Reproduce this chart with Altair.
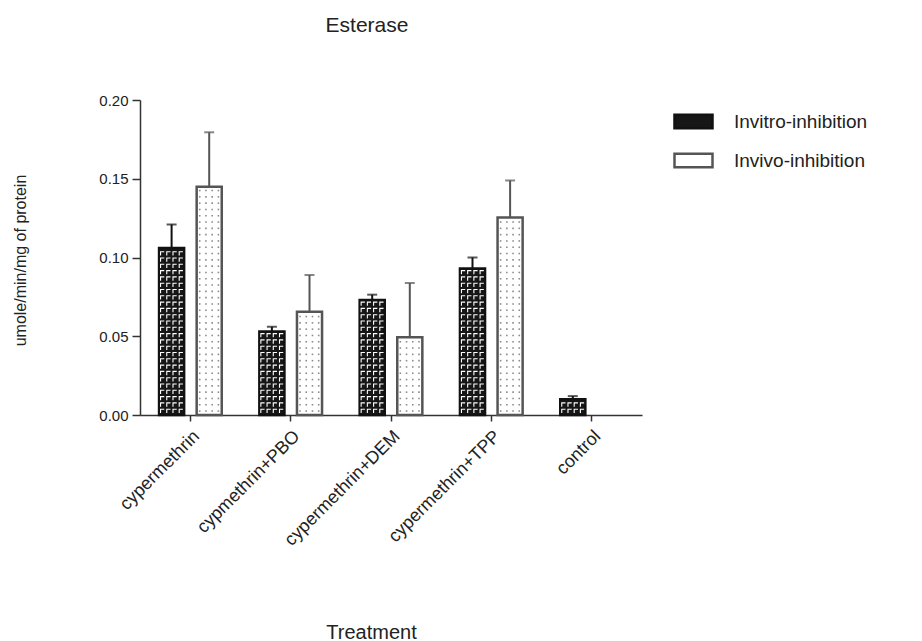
import altair as alt
import pandas as pd

FONT = "Liberation Sans"

treatments = ["cypermethrin", "cypmethrin+PBO", "cypermethrin+DEM", "cypermethrin+TPP", "control"]
series = ["Invitro-inhibition", "Invivo-inhibition"]
invitro_mean = [0.106, 0.053, 0.073, 0.093, 0.010]
invitro_err = [0.015, 0.003, 0.0034, 0.007, 0.002]
invivo_mean = [0.145, 0.0655, 0.0494, 0.1254, 0.0]
invivo_err = [0.0345, 0.0234, 0.0344, 0.0235, 0.0]

fills = ["#161616", "#ffffff"]
strokes = ["#111111", "#555555"]
err_colors = ["#111111", "#555555"]

rows = []
for i, t in enumerate(treatments):
    for s, m, e in ((series[0], invitro_mean[i], invitro_err[i]), (series[1], invivo_mean[i], invivo_err[i])):
        if m > 0:
            rows.append({"Treatment": t, "Series": s, "Mean": m, "Upper": m + e})
df = pd.DataFrame(rows)

# texture marks inside the bars (decoration derived from bar heights)
slots = [str(i) for i in range(10)]
tex = []
for r in rows:
    first = 0 if r["Series"] == series[0] else 6
    y = 0.0025
    while y < r["Mean"] - 0.0015:
        for c in range(4):
            tex.append({"Treatment": r["Treatment"], "Series": r["Series"], "Slot": str(first + c), "Y": y})
        y += 0.004
tex_df = pd.DataFrame(tex)

legend_spec = alt.Legend(
    title=None, orient="none", legendX=533, legendY=1,
    symbolType="M-1,-0.35H1V0.35H-1Z", symbolSize=1444, symbolStrokeWidth=2.5,
    labelFontSize=19, labelFont=FONT, labelColor="#222", labelOffset=20, rowPadding=6,
)

x_enc = alt.X(
    "Treatment:N", sort=treatments,
    scale=alt.Scale(paddingInner=0.375, paddingOuter=0.19),
    axis=alt.Axis(
        title="Treatment", labelAngle=-45, labelFontSize=18, labelFont=FONT, labelColor="#222",
        labelPadding=6, tickSize=6, tickWidth=1.5, tickColor="#333", domainColor="#333", domainWidth=1.5,
        titleFontSize=20, titleFont=FONT, titleFontWeight="normal", titleColor="#222",
        titleX=231, titleY=207, titleBaseline="top", titleAlign="center",
    ),
)
xo_enc = alt.XOffset("Series:N", sort=series, scale=alt.Scale(paddingInner=0.333, paddingOuter=0))
y_enc = alt.Y(
    "Mean:Q", scale=alt.Scale(domain=[0, 0.2], nice=False),
    axis=alt.Axis(
        title="umole/min/mg of protein", values=[0, 0.05, 0.1, 0.15, 0.2], format=".2f", grid=False,
        tickSize=8, tickWidth=1.5, tickColor="#333", domainColor="#333", domainWidth=1.5,
        labelFontSize=15, labelFont=FONT, labelColor="#222", labelPadding=4,
        titleFontSize=16, titleFont=FONT, titleFontWeight="normal", titleColor="#222",
        titleX=-112, titleY=160, titleAngle=270, titleBaseline="bottom", titleAlign="center",
    ),
)

base = alt.Chart(df)
bars = base.mark_bar(strokeWidth=2.5).encode(
    x=x_enc, xOffset=xo_enc, y=y_enc,
    fill=alt.Fill("Series:N", scale=alt.Scale(domain=series, range=fills), legend=legend_spec),
    stroke=alt.Stroke("Series:N", scale=alt.Scale(domain=series, range=strokes), legend=legend_spec),
)

slot_enc = alt.XOffset("Slot:N", scale=alt.Scale(type="point", domain=slots, padding=0.54))
tex_invitro = alt.Chart(tex_df[tex_df["Series"] == series[0]]).mark_point(
    shape="M-1,1L-1,-1L1,-1", filled=False, stroke="#ffffff", strokeWidth=1.1, size=14, opacity=1,
).encode(x=alt.X("Treatment:N", sort=treatments), xOffset=slot_enc, y=alt.Y("Y:Q"))
tex_invivo = alt.Chart(tex_df[tex_df["Series"] == series[1]]).mark_point(
    shape="square", filled=True, fill="#8a8a8a", size=2.5, opacity=1,
).encode(x=alt.X("Treatment:N", sort=treatments), xOffset=slot_enc, y=alt.Y("Y:Q"))

err_color = alt.Color("Series:N", scale=alt.Scale(domain=series, range=err_colors), legend=None)
rules = base.mark_rule(strokeWidth=2).encode(
    x=alt.X("Treatment:N", sort=treatments),
    xOffset=alt.XOffset("Series:N", sort=series, scale=alt.Scale(paddingInner=0.333, paddingOuter=0)),
    y=alt.Y("Mean:Q"), y2="Upper:Q", color=err_color,
)
caps = base.mark_tick(size=10, thickness=2).encode(
    x=alt.X("Treatment:N", sort=treatments),
    xOffset=alt.XOffset("Series:N", sort=series, scale=alt.Scale(paddingInner=0.333, paddingOuter=0)),
    y=alt.Y("Upper:Q"), color=err_color,
)

chart = alt.layer(bars, tex_invitro, tex_invivo, rules, caps).resolve_scale(
    xOffset="independent"
).properties(
    width=502, height=315,
    autosize=alt.AutoSizeParams(type="none"),
    padding={"left": 132, "top": 92, "right": 272, "bottom": 226},
    title=alt.TitleParams(
        text="Esterase", fontSize=21, fontWeight="normal", font=FONT, color="#222",
        anchor="middle", frame="group", offset=40, baseline="alphabetic", dx=-24,
    ),
).configure_view(stroke=None)

chart.save("out.html", embed_options={"renderer": "svg", "actions": False})
